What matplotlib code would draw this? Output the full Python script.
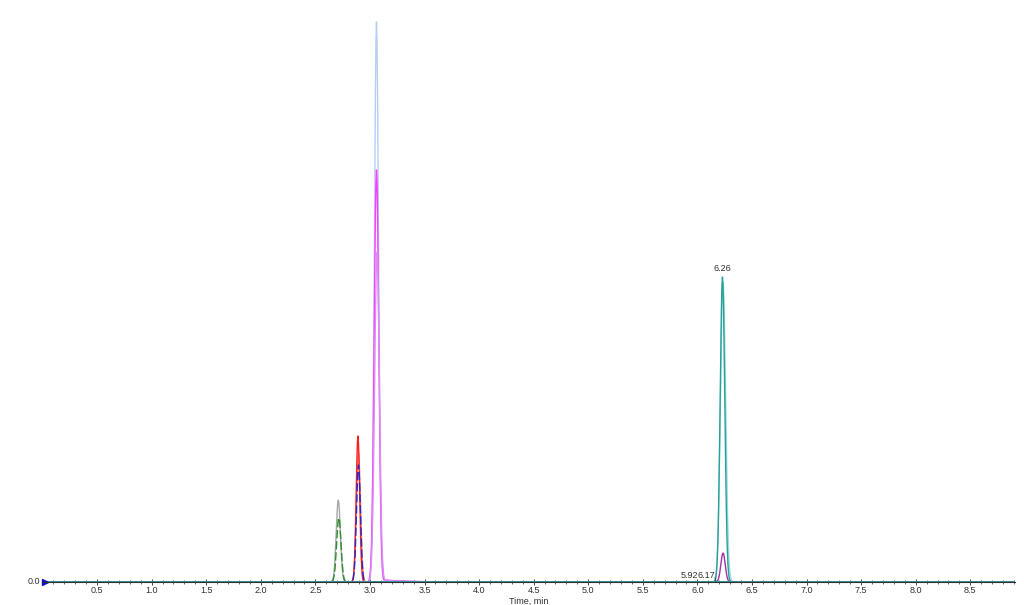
import numpy as np
import matplotlib.pyplot as plt

plt.rcParams['font.family'] = ['Liberation Sans', 'DejaVu Sans']

# peak tables for each trace: retention time (min), height (cps), width (sigma, min),
# tail level (fraction of height) and tail decay (min)
traces = [
    # colour,     style, rt,    height, sigma, tail_lvl, tail_decay
    ("#b4d0f4", "-",  3.060, 5.60e6, 0.019, 0.005, 0.20),
    ("#ff3cff", "-",  3.060, 4.12e6, 0.021, 0.007, 0.20),
    ("#d890f0", "-",  3.065, 3.30e6, 0.022, 0.007, 0.20),
    ("#f49090", "-",  2.895, 1.30e6, 0.019, 0.004, 0.05),
    ("#ff2020", "-",  2.890, 1.46e6, 0.016, 0.004, 0.05),
    ("#2828c8", "--", 2.895, 1.17e6, 0.018, 0.004, 0.05),
    ("#a8a8a8", "-",  2.710, 8.20e5, 0.019, 0.004, 0.05),
    ("#2e8b2e", "--", 2.715, 6.40e5, 0.020, 0.006, 0.06),
    ("#98dcdc", "-",  6.235, 3.00e6, 0.024, 0.004, 0.04),
    ("#2a9e9e", "-",  6.230, 3.05e6, 0.021, 0.004, 0.04),
    ("#a030a8", "-",  6.235, 2.90e5, 0.020, 0.004, 0.04),
]

minor_peaks_rt = [5.92, 6.17]
minor_peaks_h = [6.0e3, 9.0e3]

labels_rt = ["6.26", "5.92", "6.17"]

t = np.arange(0.0, 8.91, 0.005)

fig = plt.figure(figsize=(10.24, 6.05), dpi=100)
ax = fig.add_axes([42.5 / 1024, 23 / 605, (1015 - 42.5) / 1024, (582 - 18) / 605])

for col, ls, rt, h, s, tl, td in traces:
    g = np.exp(-0.5 * ((t - rt) / s) ** 2)
    tail = np.where(t > rt, tl * np.exp(-(t - rt) / td), 0.0)
    y = h * np.maximum(g, tail)
    ax.plot(t, y, color=col, lw=1.0, ls=ls, dashes=(6, 2) if ls == "--" else (None, None))

for rt, h in zip(minor_peaks_rt, minor_peaks_h):
    y = h * np.exp(-0.5 * ((t - rt) / 0.015) ** 2)
    ax.plot(t, y, color="#2a9e9e", lw=0.8)

ax.set_xlim(0, 8.91)
ax.set_ylim(0, 5.64e6)

ax.spines[['top', 'right', 'left']].set_visible(False)
ax.spines['bottom'].set_color('#303030')
ax.set_yticks([])
ax.set_xticks(np.arange(0.5, 8.6, 0.5))
ax.set_xticks(np.arange(0, 8.91, 0.1), minor=True)
ax.set_xticklabels([f"{v:.1f}" for v in np.arange(0.5, 8.6, 0.5)])
ax.tick_params(axis='x', which='major', direction='inout', length=4, width=0.6,
               labelsize=6.5, pad=1, colors='#303030')
ax.tick_params(axis='x', which='minor', direction='inout', length=2.5, width=0.5,
               colors='#303030')
ax.set_xlabel("Time, min", fontsize=6.5, labelpad=1, color='#303030')

ax.text(-0.02, 0, "0.0", ha='right', va='center', fontsize=6.5, color='#303030',
        clip_on=False)
ax.plot([0.02], [0], marker='>', color='#1010c0', ms=5, clip_on=False)

# peak labels
ax.annotate(labels_rt[0], xy=(6.23, 3.05e6), xytext=(0, 3), textcoords='offset points',
            ha='center', va='bottom', fontsize=6.5, color='#303030')
ax.text(5.93, 2.0e4, labels_rt[1], ha='center', va='bottom', fontsize=6.5, color='#303030')
ax.annotate(labels_rt[2], xy=(6.17, 0.8e4), xytext=(6.08, 2.0e4), ha='center', va='bottom',
            fontsize=6.5, color='#303030',
            arrowprops=dict(arrowstyle='-', color='#303030', lw=0.5,
                            shrinkA=0, shrinkB=0, relpos=(1.0, 0.3)))

fig.savefig("out.png", dpi=100)
